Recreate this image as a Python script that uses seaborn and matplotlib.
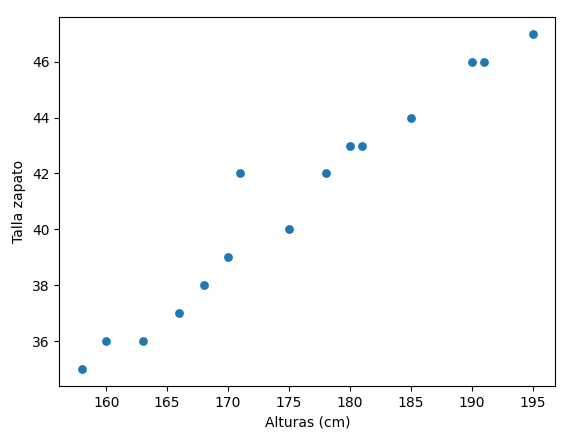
import matplotlib
matplotlib.use("Agg")
import matplotlib.pyplot as plt
import seaborn as sns
import pandas as pd

alturas = [158, 160, 163, 166, 168, 170, 171, 175, 178, 180, 181, 185, 190, 191, 195]
tallas = [35, 36, 36, 37, 38, 39, 42, 40, 42, 43, 43, 44, 46, 46, 47]

df = pd.DataFrame({"Alturas (cm)": alturas, "Talla zapato": tallas})

fig, ax = plt.subplots(figsize=(5.82, 4.36), dpi=100)
sns.scatterplot(data=df, x="Alturas (cm)", y="Talla zapato", ax=ax,
                s=40, color="#1f77b4", linewidth=0)
ax.set_xlabel("Alturas (cm)")
ax.set_ylabel("Talla zapato")
fig.subplots_adjust(left=0.102, right=0.954, top=0.961, bottom=0.115)
fig.savefig("out.png", dpi=100)
